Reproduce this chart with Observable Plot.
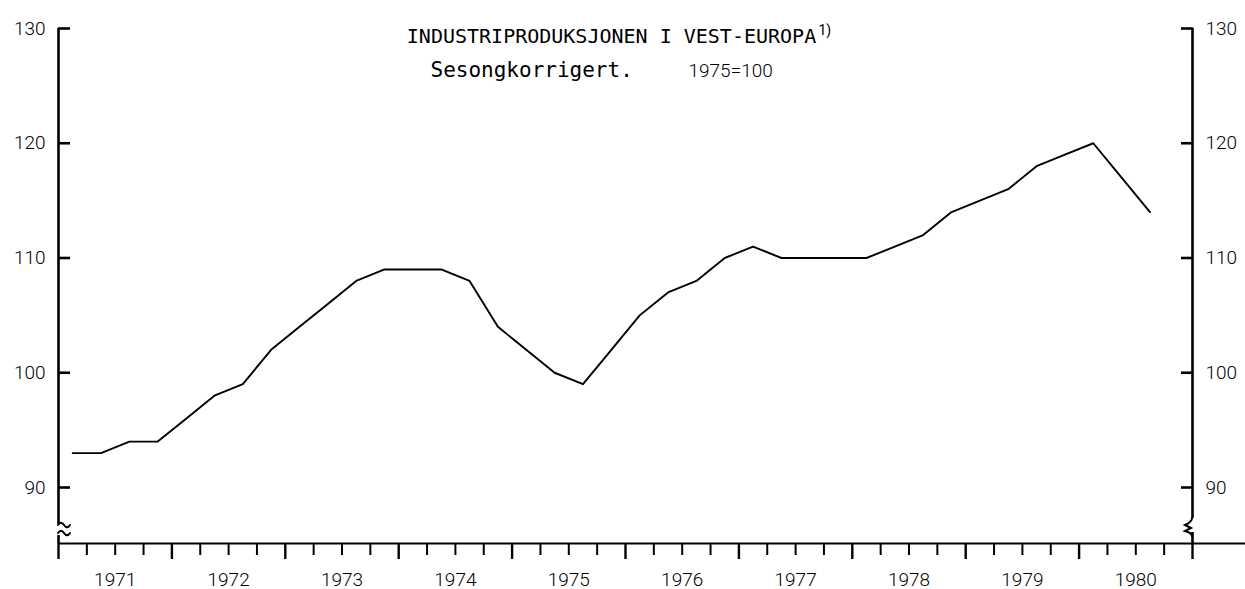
<!DOCTYPE html>
<html>
<head>
<meta charset="utf-8">
<script src="https://cdn.jsdelivr.net/npm/d3@7"></script>
<script src="https://cdn.jsdelivr.net/npm/@observablehq/plot@0.6"></script>
<style>
  html, body { margin: 0; padding: 0; background: #fff; }
  #chart { width: 1245px; height: 589px; }
</style>
</head>
<body>
<div id="chart"></div>
<script>
// ---- data ----
const years = [1971, 1972, 1973, 1974, 1975, 1976, 1977, 1978, 1979, 1980];
const yearLabels = ["1971", "1972", "1973", "1974", "1975", "1976", "1977", "1978", "1979", "1980"];
// quarterly index values, 1971 Q1 .. 1980 Q3
const quarterValues = [
  93, 93, 94, 94,
  96, 98, 99, 102,
  104, 106, 108, 109,
  109, 109, 108, 104,
  102, 100, 99, 102,
  105, 107, 108, 110,
  111, 110, 110, 110,
  110, 111, 112, 114,
  115, 116, 118, 119,
  120, 117, 114
];
const yTicks = [90, 100, 110, 120, 130];
const titleText = "INDUSTRIPRODUKSJONEN I VEST-EUROPA";
const footnoteMark = "1)";
const subtitleText = "Sesongkorrigert.";
const baseText = "1975=100";

// ---- derived ----
const firstYear = years[0];
const lastYear = years[years.length - 1] + 1;
const yMin = 85.12, yMax = 130;
const series = quarterValues.map((v, i) => ({t: firstYear + (i + 0.5) / 4, v}));
const majorTicks = d3.range(firstYear, lastYear + 1);
const minorTicks = d3.range(0, (lastYear - firstYear) * 4 + 1)
  .map(i => firstYear + i / 4)
  .filter(t => !Number.isInteger(t));
const yearCenters = years.map(y => y + 0.5);

const monoFont = "'DejaVu Sans Mono', 'Liberation Mono', monospace";
const sansFont = "Roboto, 'Noto Sans', sans-serif";

// axis breaks (decoration drawn relative to the scales)
function axisBreaks(index, scales) {
  const yb = scales.y(yMin);
  const xl = scales.x(firstYear), xr = scales.x(lastYear);
  const g = d3.create("svg:g");
  // gaps in the axis lines
  g.append("rect").attr("x", xl - 3).attr("y", yb - 19).attr("width", 6).attr("height", 11).attr("fill", "white");
  g.append("rect").attr("x", xr - 3).attr("y", yb - 25).attr("width", 6).attr("height", 14).attr("fill", "white");
  const s = g.append("g").attr("fill", "none").attr("stroke", "black").attr("stroke-width", 2).attr("stroke-linecap", "round");
  // left: double tilde
  s.append("path").attr("d", `M${xl},${yb - 18} C${xl + 2},${yb - 21} ${xl + 4},${yb - 21} ${xl + 6},${yb - 18} S${xl + 10},${yb - 15} ${xl + 12},${yb - 18}`);
  s.append("path").attr("d", `M${xl},${yb - 10} C${xl + 2},${yb - 13} ${xl + 4},${yb - 13} ${xl + 6},${yb - 10} S${xl + 10},${yb - 7} ${xl + 12},${yb - 10}`);
  // right: squiggle
  s.append("path").attr("d", `M${xr},${yb - 25} Q${xr},${yb - 21} ${xr - 7},${yb - 18} L${xr - 1},${yb - 15} L${xr - 7},${yb - 12} Q${xr},${yb - 10} ${xr},${yb - 7}`);
  return g.node();
}

const chart = Plot.plot({
  width: 1245,
  height: 589,
  marginLeft: 58,
  marginRight: 53,
  marginTop: 28,
  marginBottom: 46,
  x: {domain: [firstYear, lastYear]},
  y: {domain: [yMin, yMax]},
  style: {background: "white", color: "black", fontFamily: sansFont, overflow: "visible"},
  marks: [
    // axis lines
    Plot.ruleX([firstYear, lastYear], {y1: yMax, y2: yMin, stroke: "black", strokeWidth: 2.6}),
    Plot.ruleY([yMin], {x1: firstYear, x2: lastYear + 0.47, stroke: "black", strokeWidth: 2}),
    axisBreaks,
    // x ticks
    Plot.axisX(minorTicks, {anchor: "bottom", tickSize: 12, strokeWidth: 2, tickFormat: () => "", label: null}),
    Plot.axisX(majorTicks, {anchor: "bottom", tickSize: 16, strokeWidth: 2.4, tickFormat: () => "", label: null}),
    Plot.axisX(yearCenters, {anchor: "bottom", tickSize: 0, tickPadding: 29, tickFormat: (d, i) => yearLabels[i], fontSize: 19, fontWeight: 300, label: null}),
    // y ticks, both sides, pointing inwards
    Plot.axisY(yTicks, {anchor: "left", tickSize: -12, tickPadding: 25, strokeWidth: 2.6, fontSize: 19, fontWeight: 300, label: null}),
    Plot.axisY(yTicks, {anchor: "right", tickSize: -12, tickPadding: 25, strokeWidth: 2.6, fontSize: 19, fontWeight: 300, label: null}),
    // the series
    Plot.line(series, {x: "t", y: "v", stroke: "black", strokeWidth: 1.9, strokeLinejoin: "round"}),
    // titles
    Plot.text([titleText], {frameAnchor: "top", lineAnchor: "top", textAnchor: "middle", dx: -14, dy: 0, fontSize: 20, fontFamily: monoFont, fill: "black"}),
    Plot.text([footnoteMark], {frameAnchor: "top", lineAnchor: "top", textAnchor: "start", dx: 193, dy: -3, fontSize: 14, fontFamily: sansFont, fill: "black"}),
    Plot.text([subtitleText], {frameAnchor: "top", lineAnchor: "top", textAnchor: "start", dx: -195, dy: 34, fontSize: 21, fontFamily: monoFont, fill: "black"}),
    Plot.text([baseText], {frameAnchor: "top", lineAnchor: "top", textAnchor: "start", dx: 63, dy: 35, fontSize: 19, fontWeight: 300, fontFamily: sansFont, fill: "black"})
  ]
});
document.getElementById("chart").appendChild(chart);
</script>
</body>
</html>
